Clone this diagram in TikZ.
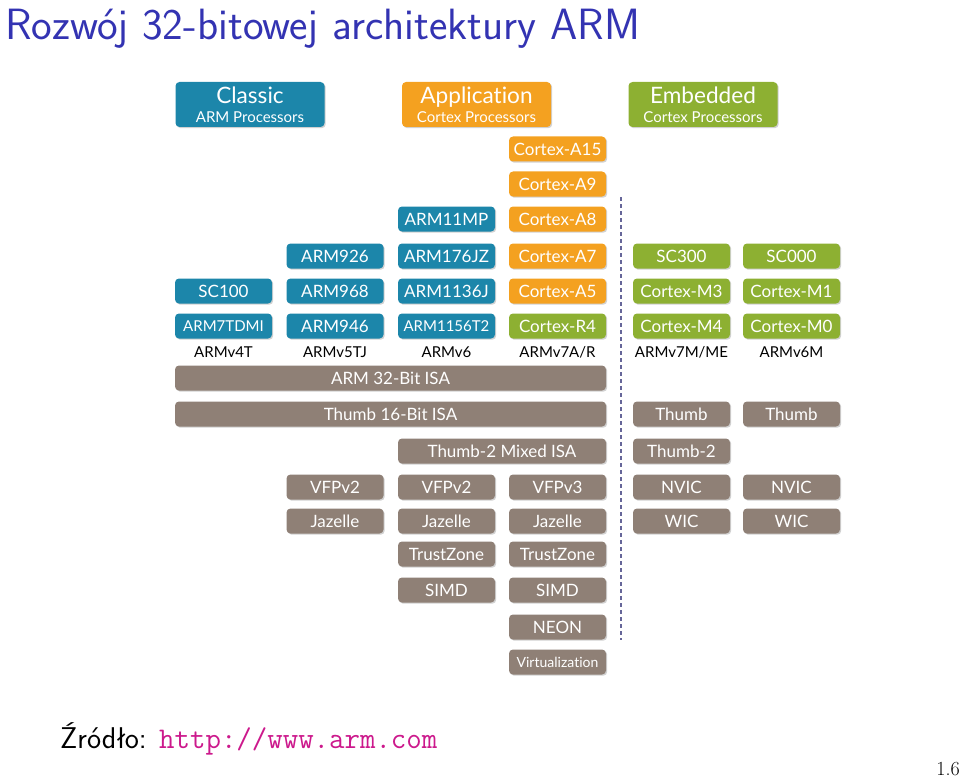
\documentclass[tikz,border=0pt]{standalone}
\usepackage{fontspec}
\usepackage{tikz}
\usetikzlibrary{shadows}

\newfontfamily\boxfont[Ligatures=NoCommon]{Lato}
\definecolor{classicblue}{RGB}{28,134,170}
\definecolor{apporange}{RGB}{244,161,32}
\definecolor{embgreen}{RGB}{141,176,50}
\definecolor{isagray}{RGB}{143,128,118}
\definecolor{titleblue}{RGB}{51,51,178}
\definecolor{linkmagenta}{RGB}{204,25,140}

\begin{document}
\begin{tikzpicture}[x=1pt,y=-1pt,
		box/.style={rounded corners=4pt, minimum width=97pt, minimum height=25pt, inner sep=0pt,
			text=white, font=\boxfont\fontsize{17}{17}\selectfont,
			drop shadow={shadow xshift=1.2pt, shadow yshift=-1.2pt, opacity=0.3, fill=black!60}},
		classic/.style={box, fill=classicblue},
		app/.style={box, fill=apporange},
		emb/.style={box, fill=embgreen},
		isa/.style={box, fill=isagray},
		head/.style={box, minimum width=149pt, minimum height=45pt, align=center},
		archlabel/.style={inner sep=0pt, font=\boxfont\fontsize{15}{15}\selectfont}]
				\useasboundingbox (0,0) rectangle (960,778);

				% Title
				\node[anchor=base west, inner sep=0pt, text=titleblue, font=\sffamily\fontsize{43.8}{44}\selectfont] (title) at (5,40) {Rozwój 32-bitowej architektury ARM};

				% Family headers
				\node[head, fill=classicblue] (classic) at (250,104.5) {{\fontsize{22.6}{22.6}\selectfont Classic}\\[2pt]{\fontsize{15}{15}\selectfont ARM Processors}};
				\node[head, fill=apporange] (application) at (476.5,104.5) {{\fontsize{22.6}{22.6}\selectfont Application}\\[2pt]{\fontsize{15}{15}\selectfont Cortex Processors}};
				\node[head, fill=embgreen] (embedded) at (703,104.5) {{\fontsize{22.6}{22.6}\selectfont Embedded}\\[2pt]{\fontsize{15}{15}\selectfont Cortex Processors}};

				% Application column on its own
				\node[app] (a15) at (557.5,149) {Cortex-A15};
				\node[app] (a9) at (557.5,184) {Cortex-A9};
				\node[classic] (arm11mp) at (446.5,219) {ARM11MP};
				\node[app] (a8) at (557.5,219) {Cortex-A8};

				% Cores, row by row
				\node[classic] (arm926) at (335,256) {ARM926};
				\node[classic] (arm176jz) at (446.5,256) {ARM176JZ};
				\node[app] (a7) at (557.5,256) {Cortex-A7};
				\node[emb] (sc300) at (681.5,256) {SC300};
				\node[emb] (sc000) at (791.5,256) {SC000};

				\node[classic] (sc100) at (223.5,291) {SC100};
				\node[classic] (arm968) at (335,291) {ARM968};
				\node[classic] (arm1136j) at (446.5,291) {ARM1136J};
				\node[app] (a5) at (557.5,291) {Cortex-A5};
				\node[emb] (m3) at (681.5,291) {Cortex-M3};
				\node[emb] (m1) at (791.5,291) {Cortex-M1};

				\node[classic, font=\boxfont\fontsize{15}{15}\selectfont] (arm7tdmi) at (223.5,326) {ARM7TDMI};
				\node[classic] (arm946) at (335,326) {ARM946};
				\node[classic, font=\boxfont\fontsize{15}{15}\selectfont] (arm1156t2) at (446.5,326) {ARM1156T2};
				\node[emb] (r4) at (557.5,326) {Cortex-R4};
				\node[emb] (m4) at (681.5,326) {Cortex-M4};
				\node[emb] (m0) at (791.5,326) {Cortex-M0};

				% Architecture versions
				\node[archlabel] (v4t) at (223.5,352) {ARMv4T};
				\node[archlabel] (v5tj) at (335,352) {ARMv5TJ};
				\node[archlabel] (v6) at (446.5,352) {ARMv6};
				\node[archlabel] (v7ar) at (557.5,352) {ARMv7A/R};
				\node[archlabel] (v7mme) at (681.5,352) {ARMv7M/ME};
				\node[archlabel] (v6m) at (791.5,352) {ARMv6M};

				% Instruction sets
				\node[isa, minimum width=431pt] (arm32) at (390.5,378) {ARM 32-Bit ISA};
				\node[isa, minimum width=431pt] (thumb16) at (390.5,414) {Thumb 16-Bit ISA};
				\node[isa] (thumbm3) at (681.5,414) {Thumb};
				\node[isa] (thumbm0) at (791.5,414) {Thumb};
				\node[isa, minimum width=208pt] (thumb2) at (502,451) {Thumb-2 Mixed ISA};
				\node[isa] (thumb2m) at (681.5,451) {Thumb-2};

				% Extensions
				\node[isa] (vfpv5) at (335,487) {VFPv2};
				\node[isa] (vfpv6) at (446.5,487) {VFPv2};
				\node[isa] (vfpv7) at (557.5,487) {VFPv3};
				\node[isa] (nvicm3) at (681.5,487) {NVIC};
				\node[isa] (nvicm0) at (791.5,487) {NVIC};

				\node[isa] (jazv5) at (335,521) {Jazelle};
				\node[isa] (jazv6) at (446.5,521) {Jazelle};
				\node[isa] (jazv7) at (557.5,521) {Jazelle};
				\node[isa] (wicm3) at (681.5,521) {WIC};
				\node[isa] (wicm0) at (791.5,521) {WIC};

				\node[isa] (tzv6) at (446.5,554) {TrustZone};
				\node[isa] (tzv7) at (557.5,554) {TrustZone};
				\node[isa] (simdv6) at (446.5,590) {SIMD};
				\node[isa] (simdv7) at (557.5,590) {SIMD};
				\node[isa] (neon) at (557.5,627) {NEON};
				\node[isa, font=\boxfont\fontsize{14}{14}\selectfont] (virt) at (557.5,662) {Virtualization};

				% Application / embedded divider
				\coordinate (divtop) at (621,197);
				\coordinate (divbot) at (621,640);
				\draw[gray!80!blue, line width=1.8pt, dash pattern=on 4pt off 3pt] (divtop) -- (divbot);

				% Source and page number
				\node[anchor=base west, inner sep=0pt, font=\sffamily\fontsize{30}{30}\selectfont] (source) at (60,748) {Źródło: {\ttfamily\color{linkmagenta}http://www.arm.com}};
				\node[anchor=base east, inner sep=0pt, font=\fontsize{20}{20}\selectfont] (page) at (960,775) {1.6};
			\end{tikzpicture}
\end{document}
